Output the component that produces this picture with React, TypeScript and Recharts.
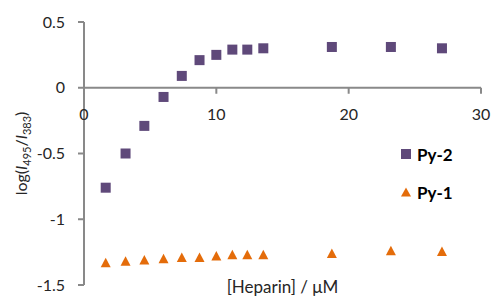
import React from 'react';
import { ScatterChart, Scatter, XAxis, YAxis, ReferenceLine, Legend, Label } from 'recharts';

// heparin concentration (µM), same for both series
const heparin = [1.64, 3.14, 4.56, 6.01, 7.39, 8.73, 10.0, 11.21, 12.34, 13.55, 18.73, 23.19, 27.05];
const py2 = [-0.76, -0.5, -0.29, -0.07, 0.09, 0.21, 0.25, 0.29, 0.29, 0.3, 0.31, 0.31, 0.3];
const py1 = [-1.33, -1.32, -1.31, -1.3, -1.29, -1.29, -1.28, -1.27, -1.27, -1.27, -1.26, -1.24, -1.245];

const xTicks = [0, 10, 20, 30];
const yTicks = [-1.5, -1, -0.5, 0, 0.5];

const X_MIN = 0;
const X_MAX = 30;
const Y_MIN = -1.5;
const Y_MAX = 0.5;

const W = 492;
const H = 297;
const TOP = 22;
const PLOT_H = 263;
// x axis crosses at y = 0
const ZERO_Y = TOP + PLOT_H * (Y_MAX / (Y_MAX - Y_MIN));

const PURPLE = '#5F497A';
const ORANGE = '#E46C0A';
const AXIS = '#898989';
const TEXT = '#262626';
const FONT = "Lato, 'Open Sans', sans-serif";

const py2Data = heparin.map((x, i) => ({ x, y: py2[i] }));
const py1Data = heparin.map((x, i) => ({ x, y: py1[i] }));

const Square = (props: any) => {
  const { cx, cy } = props;
  return <rect x={cx - 5} y={cy - 5} width={10} height={10} fill={PURPLE} />;
};

const Triangle = (props: any) => {
  const { cx, cy } = props;
  return <polygon points={`${cx},${cy - 5} ${cx + 5},${cy + 4.5} ${cx - 5},${cy + 4.5}`} fill={ORANGE} />;
};

const XTick = (props: any) => {
  const { x, payload } = props;
  return (
    <g>
      <line x1={x} x2={x} y1={ZERO_Y} y2={ZERO_Y + 6} stroke={AXIS} strokeWidth={2} />
      <text x={x} y={ZERO_Y + 32} textAnchor="middle" fill={TEXT} fontSize={16} fontFamily={FONT}>
        {payload.value}
      </text>
    </g>
  );
};

const XTitle = (props: any) => {
  const { viewBox } = props;
  return (
    <text x={viewBox.x + viewBox.width / 2} y={293} textAnchor="middle" fill={TEXT} fontSize={17} fontFamily={FONT}>
      [Heparin] / μM
    </text>
  );
};

const YTitle = (props: any) => {
  const { viewBox } = props;
  const cx = 27;
  const cy = viewBox.y + viewBox.height / 2;
  return (
    <text
      x={cx}
      y={cy}
      transform={`rotate(-90, ${cx}, ${cy})`}
      textAnchor="middle"
      fill={TEXT}
      fontSize={16}
      fontFamily={FONT}
    >
      log(
      <tspan fontStyle="italic">I</tspan>
      <tspan fontSize={11} dy={4}>495</tspan>
      <tspan dy={-4}>/</tspan>
      <tspan fontStyle="italic">I</tspan>
      <tspan fontSize={11} dy={4}>383</tspan>
      <tspan dy={-4}>)</tspan>
    </text>
  );
};

const legendItems = [
  { name: 'Py-2', color: PURPLE, shape: 'square' },
  { name: 'Py-1', color: ORANGE, shape: 'triangle' },
];

const renderLegend = () => (
  <div style={{ fontFamily: FONT }}>
    {legendItems.map((item) => (
      <div key={item.name} style={{ display: 'flex', alignItems: 'center', height: 38 }}>
        <svg width={12} height={12} style={{ marginRight: 5 }}>
          {item.shape === 'square' ? (
            <rect x={1} y={1} width={10} height={10} fill={item.color} />
          ) : (
            <polygon points="6,1.5 11,10.5 1,10.5" fill={item.color} />
          )}
        </svg>
        <span style={{ fontWeight: 700, fontSize: 17, color: '#000' }}>{item.name}</span>
      </div>
    ))}
  </div>
);

export default function App() {
  return (
    <div style={{ position: 'absolute', left: 0, top: 0, width: W, height: H, background: '#fff' }}>
      <ScatterChart width={W} height={H} margin={{ top: TOP, right: 11, bottom: 0, left: 0 }}>
        <XAxis
          type="number"
          dataKey="x"
          domain={[X_MIN, X_MAX]}
          ticks={xTicks}
          interval={0}
          height={12}
          axisLine={false}
          tickLine={false}
          tick={(p: any) => <XTick {...p} />}
        >
          <Label content={XTitle} />
        </XAxis>
        <YAxis
          type="number"
          dataKey="y"
          domain={[Y_MIN, Y_MAX]}
          ticks={yTicks}
          interval={0}
          width={84}
          allowDataOverflow
          axisLine={{ stroke: AXIS, strokeWidth: 2 }}
          tickLine={{ stroke: AXIS, strokeWidth: 2 }}
          tickSize={6}
          tickMargin={13}
          tick={{ fill: TEXT, fontSize: 16, fontFamily: FONT }}
        >
          <Label content={YTitle} />
        </YAxis>
        <ReferenceLine y={0} stroke={AXIS} strokeWidth={2} />
        <Legend
          layout="vertical"
          align="center"
          verticalAlign="middle"
          content={renderLegend}
          wrapperStyle={{ left: 400, top: 135, width: 80 }}
        />
        <Scatter name="Py-2" data={py2Data} fill={PURPLE} shape={Square} isAnimationActive={false} />
        <Scatter name="Py-1" data={py1Data} fill={ORANGE} shape={Triangle} isAnimationActive={false} />
      </ScatterChart>
    </div>
  );
}
